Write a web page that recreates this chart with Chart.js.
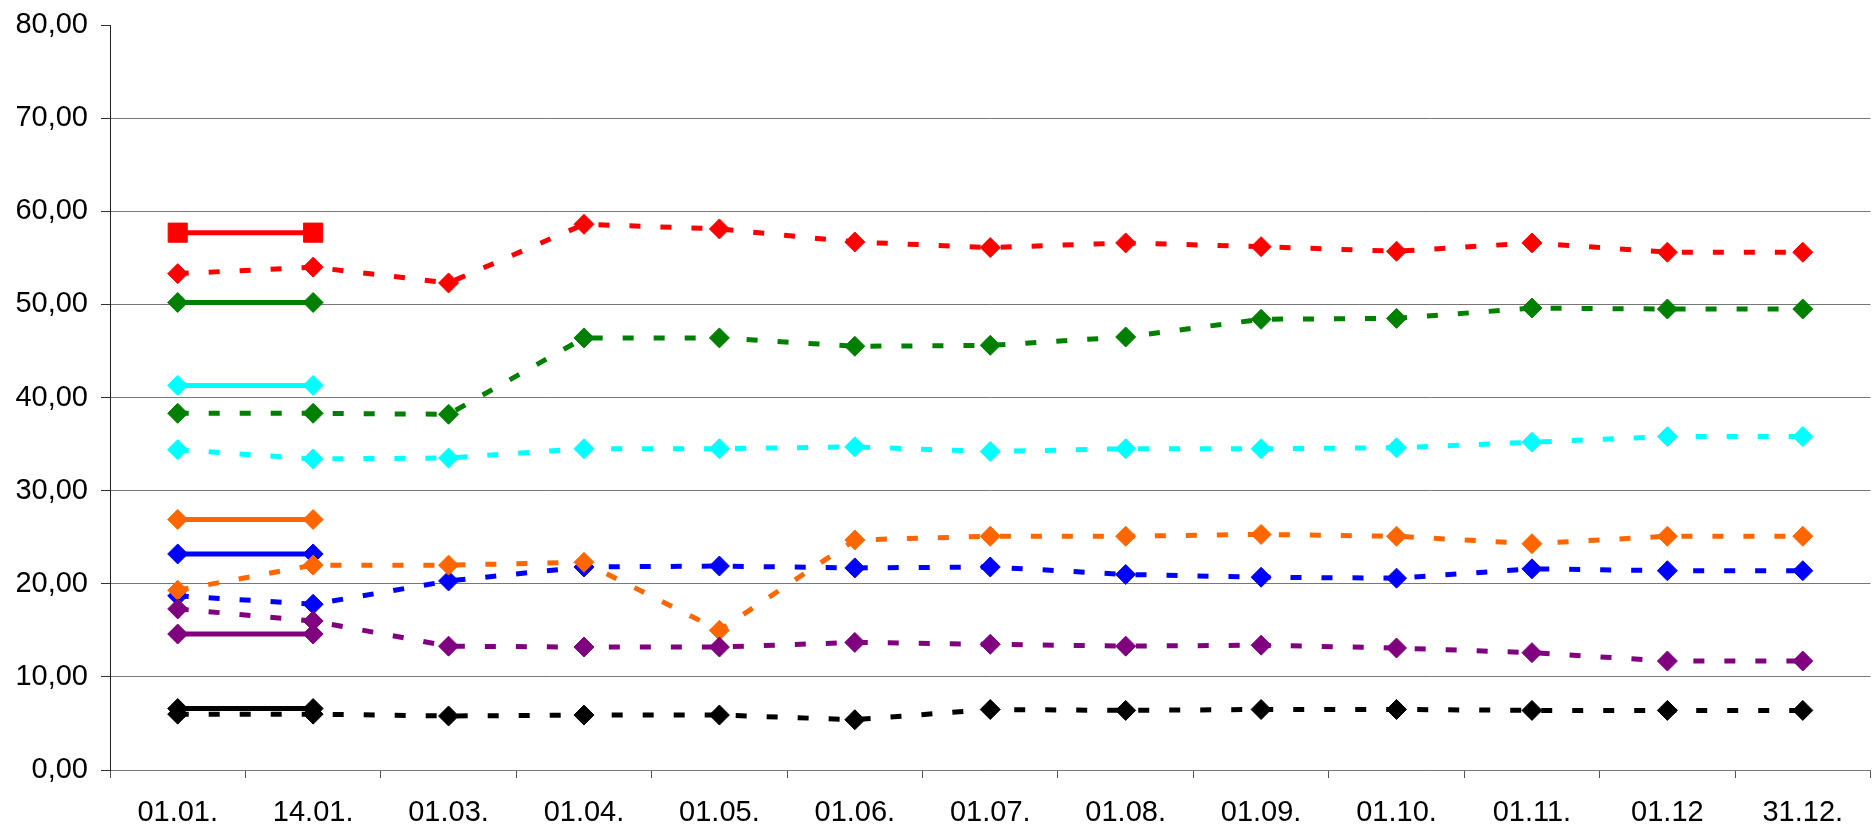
<!DOCTYPE html>
<html>
<head>
<meta charset="utf-8">
<script src="https://cdn.jsdelivr.net/npm/chart.js@4.4.0/dist/chart.umd.min.js"></script>
<style>
  html, body { margin: 0; padding: 0; background: #fff; overflow: hidden; }
  #wrap { position: absolute; left: 0; top: 0; width: 1885px; height: 827px; }
</style>
</head>
<body>
<div id="wrap"><canvas id="chart"></canvas></div>
<script>
// categories on the x axis
const categories = ['01.01.', '14.01.', '01.03.', '01.04.', '01.05.', '01.06.', '01.07.',
  '01.08.', '01.09.', '01.10.', '01.11.', '01.12', '31.12.'];

// y axis tick labels (0..80 step 10)
const yTickLabels = ['0,00', '10,00', '20,00', '30,00', '40,00', '50,00', '60,00', '70,00', '80,00'];

// solid series (only the first two dates)
const redSolid    = [57.7, 57.7];
const greenSolid  = [50.2, 50.2];
const cyanSolid   = [41.3, 41.3];
const orangeSolid = [26.9, 26.9];
const blueSolid   = [23.2, 23.2];
const purpleSolid = [14.6, 14.6];
const blackSolid  = [6.6, 6.6];

// dashed series (all dates)
const redDashed    = [53.3, 54.0, 52.3, 58.6, 58.1, 56.7, 56.1, 56.6, 56.2, 55.7, 56.6, 55.6, 55.6];
const greenDashed  = [38.3, 38.3, 38.2, 46.4, 46.4, 45.5, 45.6, 46.5, 48.4, 48.5, 49.6, 49.5, 49.5];
const cyanDashed   = [34.4, 33.4, 33.5, 34.5, 34.5, 34.7, 34.2, 34.5, 34.5, 34.6, 35.2, 35.8, 35.8];
const blueDashed   = [18.7, 17.8, 20.3, 21.8, 21.9, 21.7, 21.8, 21.0, 20.7, 20.6, 21.6, 21.4, 21.4];
const orangeDashed = [19.3, 22.0, 22.0, 22.3, 15.0, 24.7, 25.1, 25.1, 25.3, 25.1, 24.3, 25.1, 25.1];
const purpleDashed = [17.3, 16.0, 13.3, 13.2, 13.2, 13.7, 13.5, 13.3, 13.4, 13.1, 12.6, 11.7, 11.7];
const blackDashed  = [6.0, 6.0, 5.8, 5.9, 5.9, 5.4, 6.5, 6.4, 6.5, 6.5, 6.4, 6.4, 6.4];

function solid(data, color, shape) {
  return {
    data: data,
    borderColor: color,
    backgroundColor: color,
    borderWidth: 5,
    pointStyle: shape || 'rectRot',
    pointRadius: shape === 'rect' ? 13.5 : 10,
    pointBorderWidth: 1,
    pointBorderColor: color,
    pointBackgroundColor: color
  };
}

function dashed(data, color) {
  return {
    data: data,
    borderColor: color,
    backgroundColor: color,
    borderWidth: 5,
    borderDash: [11, 20],
    borderCapStyle: 'butt',
    pointStyle: 'rectRot',
    pointRadius: 10,
    pointBorderWidth: 1,
    pointBorderColor: color,
    pointBackgroundColor: color
  };
}

// listed bottom-to-top, reversed below because Chart.js paints dataset 0 last
const layers = [
  solid(redSolid, '#ff0000', 'rect'),
  solid(greenSolid, '#008000'),
  solid(cyanSolid, '#00ffff'),
  solid(orangeSolid, '#ff6600'),
  solid(blueSolid, '#0000ff'),
  solid(purpleSolid, '#800080'),
  solid(blackSolid, '#000000'),
  dashed(redDashed, '#ff0000'),
  dashed(greenDashed, '#008000'),
  dashed(cyanDashed, '#00ffff'),
  dashed(blueDashed, '#0000ff'),
  dashed(orangeDashed, '#ff6600'),
  dashed(purpleDashed, '#800080'),
  dashed(blackDashed, '#000000')
];

const font = { family: '"Liberation Sans", Arial, sans-serif', size: 29 };

new Chart(document.getElementById('chart'), {
  type: 'line',
  data: {
    labels: categories,
    datasets: layers.slice().reverse()
  },
  options: {
    responsive: true,
    maintainAspectRatio: false,
    animation: false,
    events: [],
    layout: { padding: { top: 25, right: 0, bottom: 0, left: 0 } },
    plugins: { legend: { display: false }, tooltip: { enabled: false } },
    scales: {
      x: {
        offset: true,
        afterFit: s => { s.height = 57; s.paddingLeft = 0; s.paddingRight = 0; },
        grid: {
          offset: true,
          drawOnChartArea: false,
          drawTicks: true,
          tickLength: 8,
          color: '#555'
        },
        border: { display: true, color: '#777', width: 1 },
        ticks: { color: '#000', font: font, padding: 18, maxRotation: 0, autoSkip: false }
      },
      y: {
        min: 0,
        max: 80,
        afterFit: s => { s.width = 110; s.paddingTop = 0; s.paddingBottom = 0; },
        grid: {
          color: ctx => (ctx.tick && ctx.tick.value === 80) ? 'rgba(0,0,0,0)' : '#777',
          tickColor: '#333',
          tickLength: 9,
          lineWidth: 1
        },
        border: { display: true, color: '#222', width: 1 },
        ticks: {
          stepSize: 10,
          color: '#000',
          font: font,
          padding: 13,
          callback: (v, i) => yTickLabels[i]
        }
      }
    }
  }
});
</script>
</body>
</html>
